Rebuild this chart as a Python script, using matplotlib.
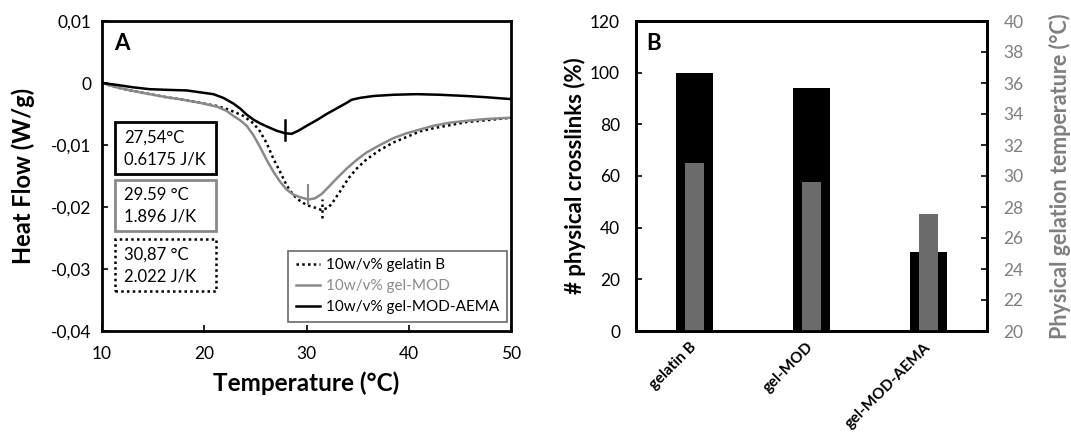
import matplotlib
matplotlib.use("Agg")
import matplotlib.pyplot as plt
from matplotlib.patches import Rectangle
import numpy as np

plt.rcParams['font.family'] = ['Lato', 'DejaVu Sans']

# ---------------- Panel A data ----------------
temp_gelB = [10, 11.43, 13.06, 14.69, 16.32, 17.95, 19.58, 21.21, 22.19, 22.84, 23.82, 24.80,
             25.45, 26.10, 26.76, 27.41, 28.06, 28.71, 29.36, 30.02, 30.83, 31.48, 32.14,
             32.62, 33.28, 34.09, 34.91, 35.88, 37.19, 38.49, 39.80, 41.10, 42.40, 44.03,
             45.66, 47.62, 50]
hf_gelB = [0, -0.0007, -0.0013, -0.0018, -0.0023, -0.0027, -0.0032, -0.0037, -0.0042, -0.0046,
           -0.0053, -0.0065, -0.0078, -0.0097, -0.0122, -0.0143, -0.0165, -0.0181, -0.0190,
           -0.0197, -0.0201, -0.0205, -0.0201, -0.0191, -0.0175, -0.0154, -0.0138, -0.0123,
           -0.0108, -0.0096, -0.0087, -0.0078, -0.0073, -0.0068, -0.0063, -0.0060, -0.0056]

temp_mod = [10, 11.43, 13.06, 14.69, 16.32, 17.95, 19.58, 21.21, 22.19, 22.84, 23.50, 24.15,
            24.80, 25.45, 26.10, 26.76, 27.41, 28.06, 28.71, 29.36, 30.18, 30.83, 31.48,
            32.14, 32.95, 33.93, 34.91, 35.88, 37.19, 38.49, 39.80, 41.10, 42.40, 44.03,
            45.66, 47.62, 50]
hf_mod = [0, -0.0007, -0.0013, -0.0018, -0.0023, -0.0027, -0.0032, -0.0038, -0.0045, -0.0053,
          -0.0060, -0.0069, -0.0084, -0.0103, -0.0124, -0.0143, -0.0159, -0.0172, -0.0180,
          -0.0184, -0.0188, -0.0186, -0.0179, -0.0168, -0.0154, -0.0138, -0.0124, -0.0112,
          -0.0100, -0.0089, -0.0081, -0.0075, -0.0069, -0.0064, -0.0061, -0.0058, -0.0056]

temp_aema = [10, 11.43, 13.06, 14.69, 16.32, 18.28, 19.58, 20.89, 21.87, 22.84, 23.50, 24.15,
             24.80, 25.45, 26.10, 27.08, 27.90, 28.55, 29.20, 30.02, 30.99, 31.97, 32.95,
             33.93, 34.42, 35.23, 36.54, 38.49, 40.77, 43.06, 45.66, 47.62, 50]
hf_aema = [0, -0.0003, -0.0007, -0.0010, -0.0011, -0.0012, -0.0015, -0.0018, -0.0024, -0.0033,
           -0.0041, -0.0051, -0.0059, -0.0065, -0.0070, -0.0077, -0.0081, -0.0082, -0.0077,
           -0.0069, -0.0060, -0.0050, -0.0041, -0.0032, -0.0027, -0.0024, -0.0021, -0.0019,
           -0.0018, -0.0019, -0.0021, -0.0023, -0.0026]

peak_T = [31.48, 30.18, 27.90]          # gelatin B, gel-MOD, gel-MOD-AEMA marker positions
peak_lo = [-0.0218, -0.0195, -0.0092]
peak_hi = [-0.0187, -0.0165, -0.0059]

box_line1 = ["27,54°C", "29.59 °C", "30,87 °C"]       # gel-MOD-AEMA, gel-MOD, gelatin B
box_line2 = ["0.6175 J/K", "1.896 J/K", "2.022 J/K"]
legend_labels = ["10w/v% gelatin B", "10w/v% gel-MOD", "10w/v% gel-MOD-AEMA"]
xticksA = [10, 20, 30, 40, 50]
yticksA = [0.01, 0, -0.01, -0.02, -0.03, -0.04]
yticklabelsA = ["0,01", "0", "-0,01", "-0,02", "-0,03", "-0,04"]

# ---------------- Panel B data ----------------
categories = ["gelatin B", "gel-MOD", "gel-MOD-AEMA"]
crosslinks = [100, 94, 30.5]
gel_temp = [30.87, 29.59, 27.54]

GRAY = "#8a8a8a"
GRAYTXT = "#7f7f7f"
BARGRAY = "#6b6b6b"
DOT = (0, (1, 1.3))

W, H = 1071, 436
fig = plt.figure(figsize=(W / 100, H / 100), dpi=100)

def rect(l, r, t, b):
    return [l / W, 1 - b / H, (r - l) / W, (b - t) / H]

# ---------- Panel A ----------
axA = fig.add_axes(rect(102, 511, 21, 331))
lB, = axA.plot(temp_gelB, hf_gelB, color='black', lw=1.8, ls=DOT)
lM, = axA.plot(temp_mod, hf_mod, color=GRAY, lw=1.8)
lA, = axA.plot(temp_aema, hf_aema, color='black', lw=1.8)
axA.plot([peak_T[0]] * 2, [peak_lo[0], peak_hi[0]], color='black', lw=1.8, ls=DOT)
axA.plot([peak_T[1]] * 2, [peak_lo[1], peak_hi[1]], color=GRAY, lw=1.5)
axA.plot([peak_T[2]] * 2, [peak_lo[2], peak_hi[2]], color='black', lw=1.8)

axA.set_xlim(10, 50)
axA.set_ylim(-0.04, 0.01)
axA.set_xticks(xticksA)
axA.set_yticks(yticksA)
axA.set_yticklabels(yticklabelsA)
axA.tick_params(direction='in', length=4, width=1.2, labelsize=12.5)
axA.tick_params(axis='y', pad=7.5)
axA.tick_params(axis='x', pad=11)
for s in axA.spines.values():
    s.set_linewidth(2)
axA.set_xlabel("Temperature (°C)", fontsize=17.5, fontweight='bold')
axA.xaxis.set_label_coords(0.5, -0.168)
axA.xaxis.label.set_va('center')
axA.set_ylabel("Heat Flow (W/g)", fontsize=17, fontweight='bold')
axA.yaxis.set_label_coords(-0.193, 0.5)
axA.yaxis.label.set_va('center')
axA.text(0.048, 0.928, "A", transform=axA.transAxes, fontsize=16, fontweight='bold',
         ha='center', va='center')

box_styles = [dict(ec='black', lw=2, ls='-'), dict(ec=GRAY, lw=2, ls='-'),
              dict(ec='black', lw=1.8, ls=DOT)]
box_y = [(0.506, 0.673), (0.323, 0.488), (0.129, 0.297)]
for l1, l2, st, (y0, y1) in zip(box_line1, box_line2, box_styles, box_y):
    axA.add_patch(Rectangle((0.033, y0), 0.246, y1 - y0, transform=axA.transAxes,
                            fc='white', ec=st['ec'], lw=st['lw'], ls=st['ls'], zorder=3))
    h = y1 - y0
    axA.text(0.054, y0 + 0.70 * h, l1, transform=axA.transAxes, fontsize=12,
             ha='left', va='center', zorder=4)
    axA.text(0.054, y0 + 0.28 * h, l2, transform=axA.transAxes, fontsize=12,
             ha='left', va='center', zorder=4)

leg = axA.legend([lB, lM, lA], legend_labels, loc='lower right', bbox_to_anchor=(0.989, 0.03),
                 fontsize=11, frameon=True, fancybox=False, edgecolor='#444444',
                 handlelength=1.6, handletextpad=0.35, borderpad=0.5, labelspacing=0.45,
                 borderaxespad=0)
leg.get_frame().set_linewidth(1.2)
leg.get_texts()[1].set_color(GRAY)

# ---------- Panel B ----------
axB = fig.add_axes(rect(636, 987, 21, 331))
x = np.arange(len(categories))
axB.bar(x, crosslinks, width=0.31, color='black')
axB.set_xlim(-0.5, 2.5)
axB.set_ylim(0, 120)
axB.set_yticks(range(0, 121, 20))
axB.set_xticks(x)
axB.set_xticklabels(categories, rotation=45, ha='right', va='center', rotation_mode='anchor',
                    fontsize=11, fontweight='bold')
axB.tick_params(axis='x', length=0, pad=10)
axB.tick_params(axis='y', direction='in', length=4, width=1.2, labelsize=12.5, pad=11.5)
for s in axB.spines.values():
    s.set_linewidth(2)
axB.set_ylabel("# physical crosslinks (%)", fontsize=16, fontweight='bold')
axB.yaxis.set_label_coords(-0.174, 0.5)
axB.yaxis.label.set_va('center')
axB.text(0.049, 0.928, "B", transform=axB.transAxes, fontsize=16, fontweight='bold',
         ha='center', va='center')

axB2 = axB.twinx()
axB2.bar(x, np.array(gel_temp) - 20, bottom=20, width=0.17, color=BARGRAY)
axB2.set_ylim(20, 40)
axB2.set_yticks(range(20, 41, 2))
axB2.tick_params(axis='y', direction='in', length=4, width=1.2, labelsize=12.5,
                 labelcolor=GRAYTXT, pad=12)
axB2.set_ylabel("Physical gelation temperature (°C)", fontsize=15.5, fontweight='bold',
                color=GRAYTXT)
axB2.yaxis.set_label_coords(1.208, 0.5)
axB2.yaxis.label.set_va('center')
for s in axB2.spines.values():
    s.set_linewidth(2)

fig.savefig("out.png", dpi=100)
